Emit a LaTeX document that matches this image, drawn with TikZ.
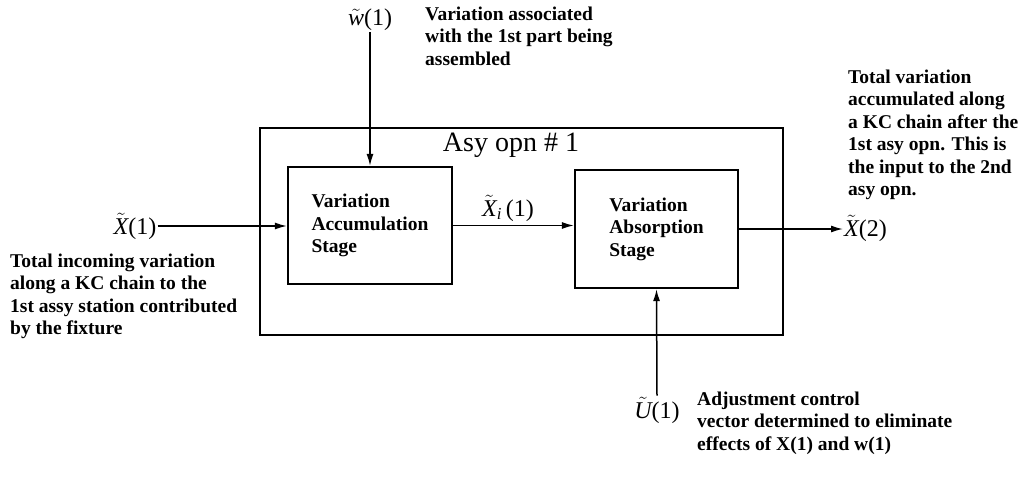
\documentclass[tikz,border=0pt]{standalone}
\usepackage{fontspec}
\setmainfont{Liberation Serif}
\usetikzlibrary{arrows.meta}
\begin{document}
\begin{tikzpicture}[x=1pt,y=-1pt,
  stagebox/.style={draw, line width=2.2pt, inner sep=0pt, align=left, font=\fontsize{19.5}{22.5}\selectfont\bfseries},
  note/.style={anchor=west, align=left, inner sep=0pt, font=\fontsize{19.5}{22.5}\selectfont\bfseries},
  varlab/.style={inner sep=1pt, font=\fontsize{24}{28}\selectfont},
  flow/.style={line width=1.5pt, -{Latex[length=12pt,width=7pt]}}]
\useasboundingbox (0,0) rectangle (1018,480);

\node[draw, line width=2pt, minimum width=523pt, minimum height=207pt, inner sep=0pt] (op) at (521.5,231.5) {};
\node[font=\fontsize{28}{32}\selectfont, inner sep=0pt] (title) at (511,145) {Asy opn \# 1};

\node[stagebox, minimum width=164pt, minimum height=117pt] (acc) at (370,225.5) {Variation\\Accumulation\\Stage};
\node[stagebox, minimum width=163pt, minimum height=118pt] (abs) at (656.5,229) {Variation\\Absorption\\Stage};

\node[varlab] (x1) at (135,226) {$\tilde{\mathit{X}}$(1)};
\node[varlab] (xi) at (508,208) {$\tilde{\mathit{X}}_{\mathit{i}}$\,(1)};
\node[varlab, anchor=west] (x2) at (843,228) {$\tilde{\mathit{X}}$(2)};
\node[varlab] (w1) at (370,20) {$\tilde{\mathit{w}}$(1)};
\node[varlab] (u1) at (657,410) {$\tilde{\mathit{U}}$(1)};

\draw[flow] (x1.east) -- (x1.east -| acc.west);
\draw[flow] (acc.east) -- (acc.east -| abs.west);
\draw[flow] (abs.east) -- (abs.east -| x2.west);
\draw[flow] (w1.south) -- (acc.north);
\draw[flow] (u1.north) -- (abs.south);

\node[note] (tw) at (425,36) {Variation associated\\with the 1st part being\\assembled};
\node[note] (tx1) at (10,296.5) {Total incoming variation\\along a KC chain to the\\1st assy station contributed\\by the fixture};
\node[note] (tx2) at (848,135) {Total variation\\accumulated along\\a KC chain after the\\1st asy opn. This is\\the input to the 2nd\\asy opn.};
\node[note] (tu) at (697,423) {Adjustment control\\vector determined to eliminate\\effects of X(1) and w(1)};
\end{tikzpicture}
\end{document}
